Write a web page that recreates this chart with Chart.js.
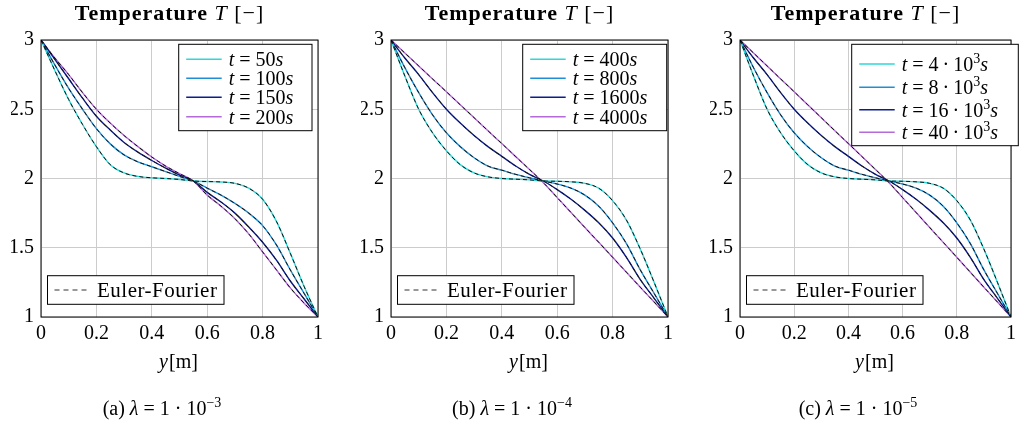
<!DOCTYPE html>
<html>
<head>
<meta charset="utf-8">
<script src="https://cdn.jsdelivr.net/npm/chart.js@4.4.1/dist/chart.umd.min.js"></script>
<style>
  body { margin: 0; background: #fff; }
  .panel { position: absolute; top: 0; height: 425px; }
</style>
</head>
<body>
<div class="panel" style="left:0;width:340px"><canvas id="chartA"></canvas></div>
<div class="panel" style="left:340px;width:340px"><canvas id="chartB"></canvas></div>
<div class="panel" style="left:680px;width:341px"><canvas id="chartC"></canvas></div>
<script>
// positions y [m]
const yPos = [0, 0.05, 0.1, 0.15, 0.2, 0.25, 0.3, 0.35, 0.4, 0.45, 0.5, 0.55, 0.6, 0.65, 0.7, 0.75, 0.8, 0.85, 0.9, 0.95, 1];

// (a) lambda = 1e-3
const tempA50  = [3.00, 2.78, 2.57, 2.39, 2.23, 2.10, 2.04, 2.015, 2.005, 2.00, 1.993, 1.982, 1.978, 1.975, 1.965, 1.93, 1.85, 1.69, 1.46, 1.22, 1.00];
const tempA100 = [3.00, 2.82, 2.65, 2.50, 2.36, 2.25, 2.17, 2.12, 2.085, 2.05, 2.015, 1.982, 1.93, 1.88, 1.82, 1.75, 1.66, 1.52, 1.34, 1.17, 1.00];
const tempA150 = [3.00, 2.86, 2.72, 2.58, 2.45, 2.35, 2.26, 2.19, 2.13, 2.075, 2.025, 1.982, 1.90, 1.83, 1.75, 1.65, 1.54, 1.41, 1.26, 1.13, 1.00];
const tempA200 = [3.00, 2.87, 2.75, 2.62, 2.50, 2.40, 2.31, 2.23, 2.155, 2.09, 2.035, 1.982, 1.88, 1.80, 1.71, 1.60, 1.47, 1.34, 1.21, 1.10, 1.00];

// (b) lambda = 1e-4
const tempB400  = [3.00, 2.74, 2.50, 2.33, 2.20, 2.10, 2.04, 2.012, 2.00, 1.995, 1.99, 1.982, 1.98, 1.976, 1.965, 1.93, 1.84, 1.70, 1.49, 1.25, 1.00];
const tempB800  = [3.00, 2.80, 2.62, 2.46, 2.33, 2.23, 2.15, 2.09, 2.06, 2.03, 2.005, 1.982, 1.96, 1.93, 1.88, 1.80, 1.68, 1.53, 1.34, 1.17, 1.00];
const tempB1600 = [3.00, 2.87, 2.75, 2.62, 2.50, 2.40, 2.31, 2.23, 2.16, 2.09, 2.03, 1.982, 1.92, 1.85, 1.77, 1.68, 1.57, 1.43, 1.27, 1.135, 1.00];
const tempB4000 = [3.00, 2.906, 2.813, 2.719, 2.626, 2.532, 2.439, 2.345, 2.252, 2.158, 2.065, 1.970, 1.862, 1.754, 1.646, 1.539, 1.431, 1.323, 1.215, 1.108, 1.00];

// (c) lambda = 1e-5
const tempC4  = [3.00, 2.74, 2.50, 2.33, 2.20, 2.10, 2.04, 2.012, 2.00, 1.995, 1.99, 1.982, 1.98, 1.976, 1.965, 1.93, 1.84, 1.70, 1.49, 1.25, 1.00];
const tempC8  = [3.00, 2.80, 2.62, 2.46, 2.33, 2.23, 2.15, 2.09, 2.06, 2.03, 2.005, 1.982, 1.96, 1.93, 1.88, 1.80, 1.68, 1.53, 1.34, 1.17, 1.00];
const tempC16 = [3.00, 2.87, 2.75, 2.62, 2.50, 2.40, 2.31, 2.23, 2.16, 2.09, 2.03, 1.982, 1.92, 1.85, 1.77, 1.68, 1.57, 1.43, 1.27, 1.135, 1.00];
const tempC40 = [3.00, 2.906, 2.813, 2.719, 2.626, 2.532, 2.439, 2.345, 2.252, 2.158, 2.065, 1.970, 1.862, 1.754, 1.646, 1.539, 1.431, 1.323, 1.215, 1.108, 1.00];

// legend times
const timesA = ['50', '100', '150', '200'];
const timesB = ['400', '800', '1600', '4000'];
const timesC = ['4', '8', '16', '40'];

const xTicks = [0, 0.2, 0.4, 0.6, 0.8, 1];
const xTickLabels = ['0', '0.2', '0.4', '0.6', '0.8', '1'];
const yTicks = [1, 1.5, 2, 2.5, 3];
const yTickLabels = ['1', '1.5', '2', '2.5', '3'];

const lineColors = ['#2cd8d8', '#1e8fd6', '#0c1d8e', '#b46ad8'];
const FAM = '"Liberation Serif", "Times New Roman", serif';
const RM = '20px ' + FAM;
const IT = 'italic 20px ' + FAM;

function drawRich(ctx, parts, x, y, align) {
  let total = 0;
  parts.forEach(p => { ctx.font = p[1]; total += ctx.measureText(p[0]).width + (p[3] || 0); });
  let cx = align === 'center' ? x - total / 2 : x;
  ctx.textAlign = 'left';
  parts.forEach(p => {
    ctx.font = p[1];
    ctx.fillText(p[0], cx, y + (p[2] || 0));
    cx += ctx.measureText(p[0]).width + (p[3] || 0);
  });
}

const decor = {
  id: 'decor',
  afterDatasetsDraw(chart, args, o) {
    const ctx = chart.ctx, a = chart.chartArea;
    const mid = (a.left + a.right) / 2;
    ctx.save();
    ctx.fillStyle = '#000';
    ctx.textBaseline = 'alphabetic';

    // frame
    ctx.strokeStyle = '#000';
    ctx.lineWidth = 1;
    ctx.strokeRect(a.left, a.top, a.right - a.left, a.bottom - a.top);

    // title
    ctx.letterSpacing = '1px';
    drawRich(ctx, [['Temperature ', 'bold 22px ' + FAM], ['T', 'italic 22px ' + FAM], [' [\u2212]', '22px ' + FAM]], mid - 10, 20, 'center');
    ctx.letterSpacing = '0px';
    // x axis title
    drawRich(ctx, [['y', IT, 0, 1], ['[m]', RM]], mid - 1, 368, 'center');
    // caption
    drawRich(ctx, [['(' + o.tag + ') ', '20px ' + FAM], ['\u03bb', 'italic 20px ' + FAM], [' = 1 \u00b7 10', '20px ' + FAM],
      ['\u2212' + o.exp, '14px ' + FAM, -8]], mid - 17.5, 415, 'center');

    // time legend box
    const b = o.box;
    ctx.fillStyle = '#fff';
    ctx.fillRect(b.x, a.top + 4.3, b.w, b.h);
    ctx.strokeRect(b.x, a.top + 4.3, b.w, b.h);
    o.times.forEach((t, i) => {
      const ry = a.top + 4.3 + b.rows[i];
      ctx.strokeStyle = lineColors[i];
      ctx.lineWidth = 1.6;
      ctx.beginPath();
      ctx.moveTo(b.x + 7.5, ry);
      ctx.lineTo(b.x + 43, ry);
      ctx.stroke();
      ctx.fillStyle = '#000';
      const parts = [['t', IT, 7, 5], ['=', RM, 7, 5]];
      if (o.sup) {
        parts.push([t, RM, 7, 4]);
        parts.push(['\u00b7', RM, 7, 4]);
        parts.push(['10', RM, 7]);
        parts.push(['3', '14px ' + FAM, -1]);
      } else {
        parts.push([t, RM, 7]);
      }
      parts.push(['s', IT, 7]);
      drawRich(ctx, parts, b.x + 50, ry, 'left');
    });

    // Euler-Fourier legend box
    ctx.strokeStyle = '#000';
    ctx.lineWidth = 1;
    ctx.fillStyle = '#fff';
    ctx.fillRect(a.left + 6.5, a.bottom - 41.3, 176.5, 28.6);
    ctx.strokeRect(a.left + 6.5, a.bottom - 41.3, 176.5, 28.6);
    ctx.strokeStyle = '#333';
    ctx.setLineDash([5, 4]);
    ctx.beginPath();
    ctx.moveTo(a.left + 13.5, a.bottom - 27);
    ctx.lineTo(a.left + 46.5, a.bottom - 27);
    ctx.stroke();
    ctx.setLineDash([]);
    ctx.fillStyle = '#000';
    ctx.letterSpacing = '0.5px';
    drawRich(ctx, [['Euler-Fourier', '21px ' + FAM]], a.left + 56, a.bottom - 20, 'left');
    ctx.letterSpacing = '0px';
    ctx.restore();
  }
};

function makeChart(id, series, pad, extra) {
  const datasets = [];
  // Euler-Fourier reference, dashed; first in the list so it is drawn on top
  series.forEach(s => {
    datasets.push({
      data: yPos.map((x, j) => ({ x: x, y: s[j] })),
      borderColor: '#111',
      borderWidth: 1,
      borderDash: [4, 3],
      pointRadius: 0,
      cubicInterpolationMode: 'monotone',
      fill: false,
      order: 0
    });
  });
  series.forEach((s, i) => {
    datasets.push({
      data: yPos.map((x, j) => ({ x: x, y: s[j] })),
      borderColor: lineColors[i],
      borderWidth: 1.4,
      pointRadius: 0,
      cubicInterpolationMode: 'monotone',
      fill: false,
      order: 1
    });
  });

  return new Chart(document.getElementById(id), {
    type: 'line',
    data: { datasets: datasets },
    plugins: [decor],
    options: {
      responsive: true,
      maintainAspectRatio: false,
      animation: false,
      layout: { padding: { left: pad.left, right: pad.right, top: 40, bottom: 78 } },
      plugins: { legend: { display: false }, tooltip: { enabled: false }, decor: extra },
      scales: {
        x: {
          type: 'linear', min: 0, max: 1,
          afterBuildTicks: sc => { sc.ticks = xTicks.map(v => ({ value: v })); },
          afterFit: sc => { sc.height = 30; },
          ticks: { callback: (v, i) => xTickLabels[i], font: { family: FAM, size: 20 }, color: '#000', padding: 5, maxRotation: 0, autoSkip: false },
          grid: { color: '#cccccc', drawTicks: false },
          border: { display: false }
        },
        y: {
          type: 'linear', min: 1, max: 3,
          afterBuildTicks: sc => { sc.ticks = yTicks.map(v => ({ value: v })); },
          afterFit: sc => { sc.width = 30; },
          ticks: { callback: (v, i) => yTickLabels[i], font: { family: FAM, size: 20 }, color: '#000', padding: 7, autoSkip: false },
          grid: { color: '#cccccc', drawTicks: false },
          border: { display: false }
        }
      }
    }
  });
}

makeChart('chartA', [tempA50, tempA100, tempA150, tempA200], { left: 11, right: 22 },
  { tag: 'a', exp: '3', times: timesA, sup: false, box: { x: 178.7, w: 133.3, h: 86.4, rows: [15, 34, 53, 72.4] } });
makeChart('chartB', [tempB400, tempB800, tempB1600, tempB4000], { left: 21, right: 12 },
  { tag: 'b', exp: '4', times: timesB, sup: false, box: { x: 182.7, w: 144, h: 86.4, rows: [15, 34, 53, 72.4] } });
makeChart('chartC', [tempC4, tempC8, tempC16, tempC40], { left: 30, right: 3 },
  { tag: 'c', exp: '5', times: timesC, sup: true, box: { x: 171.7, w: 166.6, h: 101.4, rows: [19.7, 43, 65.4, 88] } });
</script>
</body>
</html>
